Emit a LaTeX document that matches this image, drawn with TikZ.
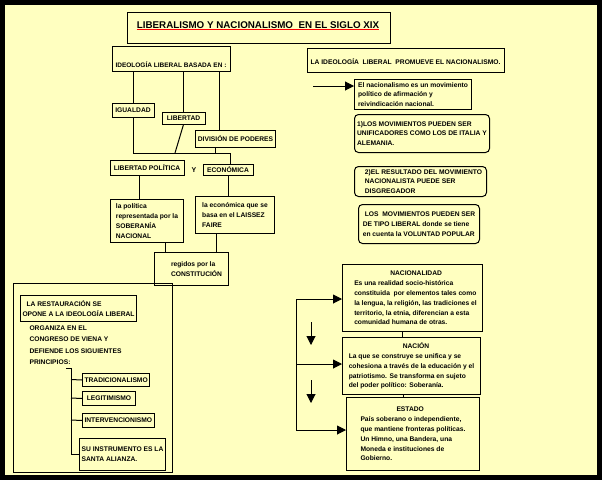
\documentclass[tikz,border=0pt]{standalone}
\usepackage{fontspec}
\setmainfont{Liberation Sans}
\usetikzlibrary{arrows.meta}
\begin{document}
\begin{tikzpicture}[x=1pt,y=-1pt,
 box/.style={draw,line width=1pt,inner sep=2pt,font=\bfseries\fontsize{6.7}{9.8}\selectfont},
 rbox/.style={box,rounded corners=4pt,align=left},
 ln/.style={line width=1pt},
 ar/.style={line width=1pt,-{Triangle[length=9pt,width=9pt]}}]
\fill[black] (0,0) rectangle (602,480);
\fill[fill={rgb,255:red,255;green,255;blue,192}] (5,5) rectangle (597,475);
\useasboundingbox (0,0) rectangle (602,480);
% title
\node[box,minimum width=263,minimum height=31] (t) at (258.5,27.5) {};
\node[font=\bfseries\fontsize{9.8}{11}\selectfont,inner sep=0] (tt) at (258,25) {LIBERALISMO Y NACIONALISMO\ \ EN EL SIGLO XIX};
\draw[red,line width=1pt] (tt.south west) ++(0,1) -- ([yshift=-1]tt.south east);
% left tree
\node[box,minimum width=118,minimum height=25,anchor=north west] (ideo) at (112,46) {};
\node[font=\bfseries\fontsize{6.5}{9}\selectfont] (ideot) at (171,65) {IDEOLOGÍA LIBERAL BASADA EN :};
\node[box,minimum width=42,minimum height=14] (igu) at (133,110) {IGUALDAD};
\node[box,minimum width=43,minimum height=12] (lib) at (183.5,118) {LIBERTAD};
\node[box,minimum width=79,minimum height=17] (div) at (235.5,138.5) {DIVISIÓN DE PODERES};
\coordinate (hl) at (133,153); \coordinate (hr) at (230,153);
\node[box,minimum width=74,minimum height=15] (lp) at (147,168) {LIBERTAD POLÍTICA};
\node[font=\bfseries\fontsize{7}{9}\selectfont] (y) at (194,170) {Y};
\node[box,minimum width=50,minimum height=11] (eco) at (228,169.5) {ECONÓMICA};
\node[box,align=left,minimum width=73,minimum height=43,anchor=north west] (pol) at (110,199) {la política\\representada por la\\SOBERANÍA\\NACIONAL};
\node[box,align=left,minimum width=79,minimum height=37,anchor=north west] (ec) at (195,196) {la económica que se\\basa en el LAISSEZ\\FAIRE};
\node[box,align=left,minimum width=74,minimum height=33,anchor=north west] (reg) at (154,252) {\hspace*{10pt}regidos por la\\\hspace*{10pt}CONSTITUCIÓN};
\draw[ln] (ideo.south -| igu.north) -- (igu.north);
\draw[ln] (ideo.south -| lib.north) -- (lib.north);
\draw[ln] (219,71) -- (219,130);
\draw[ln] (igu.south) -- (hl) -- (hr) -- (230,164);
\draw[ln] (lib.south) -- (175,153);
\draw[ln] (215,147) -- (215,153);
\draw[ln] (139,175.5) -- (139,199);
\draw[ln] (228,175) -- (228,196);
\draw[ln] (165,242) -- (165,252);
\draw[ln] (216,233) -- (216,252);
% restauracion
\node[box,minimum width=159,minimum height=189,anchor=north west] (rest) at (13,283) {};
\node[box,align=left,minimum width=116,minimum height=26,anchor=north west] (restt) at (20,295) {\hspace*{4pt}LA RESTAURACIÓN SE\\OPONE A LA IDEOLOGÍA LIBERAL};
\node[font=\bfseries\fontsize{6.7}{11.5}\selectfont,align=left,anchor=north west] (org) at (26,322) {ORGANIZA EN EL\\CONGRESO DE VIENA Y\\DEFIENDE LOS SIGUIENTES\\PRINCIPIOS:};
\node[box,minimum width=66,minimum height=13,anchor=north west] (tra) at (82,373) {TRADICIONALISMO};
\node[box,minimum width=53,minimum height=14,anchor=north west] (leg) at (82,391) {LEGITIMISMO};
\node[box,minimum width=71,minimum height=14,anchor=north west] (int) at (82,413) {INTERVENCIONISMO};
\node[box,align=left,minimum width=86,minimum height=32,anchor=north west] (su) at (79,438) {SU INSTRUMENTO ES LA\\SANTA ALIANZA.};
\coordinate (bt) at (71,368); \coordinate (bb) at (71,454);
\draw[ln] (bt) -- (bb) -- (bb -| su.west);
\draw[ln] (71,379.5) -- (tra.west);
\draw[ln] (71,398) -- (leg.west);
\draw[ln] (71,420) -- (int.west);
\draw[ln] (66,368) -- (bt);
% right side
\node[box,minimum width=197,minimum height=24,anchor=north west] (prom) at (307,48) {};
\node[font=\bfseries\fontsize{6.7}{9}\selectfont] at (405.5,62) {LA IDEOLOGÍA\ \ LIBERAL\ \ PROMUEVE EL NACIONALISMO.};
\node[box,align=left,minimum width=117,minimum height=30,anchor=north west] (nac) at (354,79) {El nacionalismo es un movimiento\\político de afirmación y\\reivindicación nacional.};
\coordinate (a0) at (313,86);
\draw[ar] (a0) -- (a0 -| nac.west);
\node[rbox,minimum width=135,minimum height=38,anchor=north west] (m1) at (354,114) {1)LOS MOVIMIENTOS PUEDEN SER\\UNIFICADORES COMO LOS DE ITALIA Y\\ALEMANIA.};
\node[rbox,minimum width=132,minimum height=30,anchor=north west] (m2) at (354,166) {\hspace*{6pt}2)EL RESULTADO DEL MOVIMIENTO\\\hspace*{6pt}NACIONALISTA PUEDE SER\\\hspace*{6pt}DISGREGADOR};
\node[rbox,minimum width=121,minimum height=39,anchor=north west] (m3) at (358,204) {\hspace*{2pt}LOS\ \ MOVIMIENTOS PUEDEN SER\\DE TIPO LIBERAL donde se tiene\\en cuenta la VOLUNTAD POPULAR};
\node[box,align=left,minimum width=140,minimum height=67,anchor=north west] (nd) at (342,264) {\hspace*{42pt}NACIONALIDAD\\\hspace*{6pt}Es una realidad socio-histórica\\\hspace*{6pt}constituida\ \ por elementos tales como\\\hspace*{6pt}la lengua, la religión, las tradiciones el\\\hspace*{6pt}territorio, la etnia, diferencian a esta\\\hspace*{6pt}comunidad humana de otras.};
\node[box,align=left,minimum width=138,minimum height=57,anchor=north west] (nc) at (342,337) {\hspace*{54pt}NACIÓN\\La que se construye se unifica y se\\cohesiona a través de la educación y el\\patriotismo. Se transforma en sujeto\\del poder político: Soberanía.};
\node[box,align=left,minimum width=133,minimum height=73,anchor=north west] (es) at (346,397) {\hspace*{36pt}ESTADO\\País soberano o independiente,\\que mantiene fronteras políticas.\\Un Himno, una Bandera, una\\Moneda e instituciones de\\Gobierno.};
\draw[ln] (402,331) -- (402,337);
\draw[ln] (403,394) -- (403,397);
\coordinate (v1) at (296,299); \coordinate (v2) at (296,364); \coordinate (v3) at (296,430);
\draw[ln] (v1) -- (v3);
\draw[ar] (v1) -- (v1 -| nd.west);
\draw[ar] (v2) -- (v2 -| nc.west);
\draw[ar] (v3) -- (v3 -| es.west);
\coordinate (d1) at (311,322); \coordinate (d2) at (311,345);
\coordinate (d3) at (311,380); \coordinate (d4) at (311,403);
\draw[ar] (d1) -- (d2);
\draw[ar] (d3) -- (d4);
\end{tikzpicture}
\end{document}
